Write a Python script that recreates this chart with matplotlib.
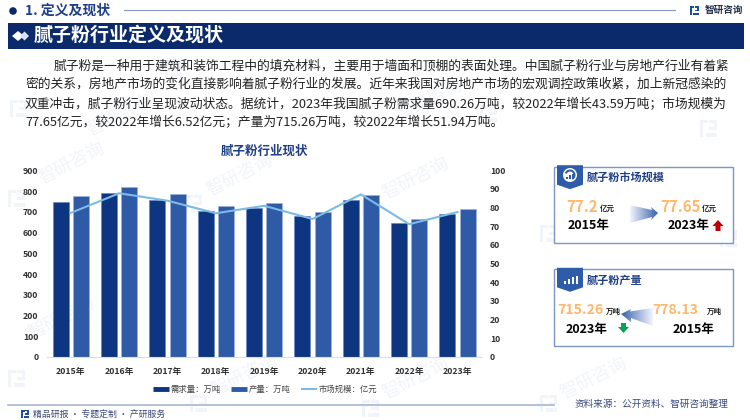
import numpy as np
import matplotlib
matplotlib.use("Agg")
import matplotlib.pyplot as plt
from matplotlib.patches import Polygon, Rectangle, Circle, Wedge
from matplotlib.lines import Line2D

plt.rcParams['font.family'] = ['Noto Sans CJK SC', 'DejaVu Sans']

# --- data ---
years = ['2015年', '2016年', '2017年', '2018年', '2019年', '2020年', '2021年', '2022年', '2023年']
demand = [746, 792, 757, 705, 717, 680, 757, 646.67, 690.26]
output = [778.13, 820, 784, 729, 742, 699, 779, 663.32, 715.26]
market = [77.2, 87.7, 83.7, 77, 81, 73.9, 87.1, 71.13, 77.65]

left_ticks = [0, 100, 200, 300, 400, 500, 600, 700, 800, 900]
right_ticks = [0, 10, 20, 30, 40, 50, 60, 70, 80, 90, 100]

paragraph = [
    "腻子粉是一种用于建筑和装饰工程中的填充材料，主要用于墙面和顶棚的表面处理。中国腻子粉行业与房地产行业有着紧",
    "密的关系，房地产市场的变化直接影响着腻子粉行业的发展。近年来我国对房地产市场的宏观调控政策收紧，加上新冠感染的",
    "双重冲击，腻子粉行业呈现波动状态。据统计，2023年我国腻子粉需求量690.26万吨，较2022年增长43.59万吨；市场规模为",
    "77.65亿元，较2022年增长6.52亿元；产量为715.26万吨，较2022年增长51.94万吨。",
]

NAVY = '#0b2a6b'
DARK_BAR = '#0d3580'
MID_BAR = '#2f5aa5'
LINE_BLUE = '#7bbbe6'
ORANGE = '#ffb869'
TITLE_BLUE = '#1f3f86'
WM = '#f1f4f9'

W, H = 750, 420
fig = plt.figure(figsize=(W / 100, H / 100), dpi=100, facecolor='white')

# page layer, in pixel coordinates
bg = fig.add_axes([0, 0, 1, 1], zorder=0)
bg.axis('off')


def logo(ax, x, y, s, color):
    # the little bracket mark of the brand
    ax.add_patch(Polygon([(x, y), (x + s * 0.45, y), (x + s * 0.45, y + s * 0.2), (x + s * 0.2, y + s * 0.2),
                          (x + s * 0.2, y + s), (x, y + s)], color=color, lw=0, zorder=2))
    ax.add_patch(Polygon([(x + s * 0.55, y), (x + s, y), (x + s, y + s * 0.6), (x + s * 0.55, y + s * 0.6),
                          (x + s * 0.55, y + s * 0.42), (x + s * 0.8, y + s * 0.42), (x + s * 0.8, y + s * 0.18),
                          (x + s * 0.55, y + s * 0.18)], color=color, lw=0, zorder=2))
    ax.add_patch(Rectangle((x + s * 0.35, y + s * 0.78), s * 0.65, s * 0.22, color=color, lw=0, zorder=2))


# watermarks
for wx, wy in [(72, 163), (240, 175), (416, 178), (590, 205), (62, 318), (245, 375),
               (416, 378), (594, 378), (430, 100), (120, 115)]:
    bg.text(wx, wy, '智研咨询', color=WM, fontsize=13, rotation=27, ha='center', va='center', zorder=1)
for lx, ly in [(8, 190), (185, 195), (362, 200), (540, 225), (8, 370), (190, 395), (362, 400),
               (540, 395), (10, 100), (165, 60), (480, 105), (700, 120), (720, 230)]:
    logo(bg, lx, ly, 17, WM)

# header
bg.add_patch(Circle((13, 11), 3.8, color=NAVY, lw=0, zorder=3))
bg.text(25, 11, '1. 定义及现状', color=TITLE_BLUE, fontsize=10, fontweight='bold', va='center', zorder=3)
bg.plot([124, 675], [10, 10], color='#8396c0', lw=0.8, zorder=3)
logo(bg, 690, 6, 9, '#1d4d9c')
bg.text(705, 10, '智研咨询', color='#222f4a', fontsize=6.9, fontweight='bold', va='center', zorder=3)
bg.add_patch(Rectangle((8, 23), 736, 26, color=NAVY, lw=0, zorder=3))
bg.add_patch(Polygon([(12, 36), (18, 31), (24, 36), (18, 41)], color='white', lw=0, zorder=4))
bg.add_patch(Polygon([(20, 36), (24.5, 31.5), (29, 36), (24.5, 40.5)], color='#dbe3f2', lw=0, zorder=4))
bg.text(34, 35.5, '腻子粉行业定义及现状', color='white', fontsize=13.7, fontweight='bold', va='center', zorder=4)

# paragraph
line_y = [65.7, 84.3, 103.3, 121.7]
line_x = [54, 25, 25, 25]
for tx, ty, line in zip(line_x, line_y, paragraph):
    bg.text(tx, ty, line, color='#222222', fontsize=9.21, va='center', zorder=3)

# footer
bg.plot([8, 554], [405, 405], color='#a9b6d3', lw=1.2, zorder=3)
logo(bg, 21, 410, 8, '#1d4d9c')
bg.text(33, 414.5, '精品研报 · 专题定制 · 产研服务', color='#3a4a7a', fontsize=6.4, va='center', zorder=3)
bg.text(575, 404, '资料来源：公开资料、智研咨询整理', color='#3a4a7a', fontsize=6.9, va='center', zorder=3)


def grad_arrow(ax, pts, x0, x1, y0, y1, left_dark):
    ramp = np.linspace(0, 1, 64).reshape(1, -1)
    if left_dark:
        ramp = ramp[:, ::-1]
    c0, c1 = np.array([0.95, 0.96, 0.99]), np.array([0.22, 0.38, 0.68])
    img = (c0[None, None, :] * (1 - ramp[..., None]) + c1[None, None, :] * ramp[..., None])
    im = ax.imshow(img, extent=(x0, x1, y1, y0), aspect='auto', zorder=3)
    patch = Polygon(pts, transform=ax.transData, fc='none', ec='none')
    ax.add_patch(patch)
    im.set_clip_path(patch)


def card(ax, y0, y1, title):
    ax.add_patch(Rectangle((553.7, y0), 179, y1 - y0, fc='white', ec='#6485c0', lw=1, zorder=2, alpha=0.85))
    ax.add_patch(Polygon([(557, y0 - 1.5), (583, y0 - 1.5), (583, y0 + 18), (570, y0 + 22.5), (557, y0 + 18)],
                         color='#2f5ca8', lw=0, zorder=3))
    ax.text(587, y0 + 11, title, color=TITLE_BLUE, fontsize=8, fontweight='bold', va='center', zorder=3)


def pieces(ax, x, y, s, color, size, weight='bold'):
    ax.text(x, y, s, color=color, fontsize=size, fontweight=weight, va='center', zorder=4)


# card 1, market size
card(bg, 166.7, 242.7, '腻子粉市场规模')
bg.add_patch(Circle((570, 175), 7, color='white', lw=0, zorder=4))
bg.add_patch(Wedge((570, 175), 5.5, 200, 60, width=2, color='#2f5ca8', lw=0, zorder=5))
for bx, bh in [(567, 2), (570, 3.5), (573, 5)]:
    bg.add_patch(Rectangle((bx - 0.8, 178.5 - bh), 1.6, bh, color='#2f5ca8', lw=0, zorder=5))
pieces(bg, 566.5, 207, '77.2', ORANGE, 10.8)
pieces(bg, 600, 208.5, '亿元', '#222222', 5.4)
pieces(bg, 568, 226, '2015年', 'black', 9)
grad_arrow(bg, [(630, 205), (652, 210), (651, 207), (658, 213), (651, 220), (652, 217), (630, 223)],
           630, 658, 205, 223, False)
pieces(bg, 660, 207, '77.65', ORANGE, 10.8)
pieces(bg, 702, 208.5, '亿元', '#222222', 5.4)
pieces(bg, 668, 226, '2023年', 'black', 9)
bg.add_patch(Polygon([(718, 220), (723.5, 226), (720.5, 226), (720.5, 231), (715.5, 231), (715.5, 226), (712.5, 226)],
                     color='#c00000', lw=0, zorder=4))

# card 2, output
card(bg, 269.3, 345.7, '腻子粉产量')
for bx, bh in [(565, 3), (569, 5), (573, 7), (577, 8)]:
    bg.add_patch(Rectangle((bx - 1.1, 283.5 - bh), 2.2, bh, color='white', lw=0, zorder=5))
pieces(bg, 557, 310, '715.26', ORANGE, 10.1)
pieces(bg, 606, 311, '万吨', '#222222', 5.4)
pieces(bg, 566, 329, '2023年', 'black', 9)
bg.add_patch(Polygon([(623.5, 333), (629, 327), (626, 327), (626, 323), (621, 323), (621, 327), (618, 327)],
                     color='#00a651', lw=0, zorder=4))
grad_arrow(bg, [(621, 314), (631, 309), (630, 311.5), (653, 308), (653, 326), (631, 318), (631, 322)],
           621, 653, 308, 326, True)
pieces(bg, 652, 310, '778.13', ORANGE, 10.1)
pieces(bg, 707, 311, '万吨', '#222222', 5.4)
pieces(bg, 673, 329, '2015年', 'black', 9)

bg.set_xlim(0, W)
bg.set_ylim(H, 0)

# --- chart ---
ax_l, ax_r, ax_top, ax_bot = 46.7, 481.7, 170.3, 357
ax = fig.add_axes([ax_l / W, 1 - ax_bot / H, (ax_r - ax_l) / W, (ax_bot - ax_top) / H], zorder=2)
ax.patch.set_visible(False)
x = np.arange(len(years))
bw = 0.33
ax.bar(x - 0.21, demand, bw, color=DARK_BAR, edgecolor='#5f80c0', linewidth=0.4, label='需求量：万吨')
ax.bar(x + 0.21, output, bw, color=MID_BAR, edgecolor='#9db3dd', linewidth=0.5, label='产量：万吨')
ax.set_xlim(-0.5, len(years) - 0.5)
ax.set_ylim(0, 900)
ax.set_yticks(left_ticks)
ax.set_xticks(x, years)
ax.tick_params(axis='both', length=0, labelsize=6.3, labelcolor='#333333')
ax.tick_params(axis='x', pad=7)
ax.tick_params(axis='y', pad=6)
for lab in ax.get_xticklabels() + ax.get_yticklabels():
    lab.set_fontweight('bold')
for s in ['top', 'left', 'right']:
    ax.spines[s].set_visible(False)
ax.spines['bottom'].set_color('#d9dde5')
ax.spines['bottom'].set_linewidth(0.8)

ax2 = ax.twinx()
ax2.patch.set_visible(False)
ax2.plot(x, market, color=LINE_BLUE, lw=1.5, label='市场规模：亿元')
ax2.set_ylim(0, 100)
ax2.set_yticks(right_ticks)
ax2.tick_params(axis='y', length=0, labelsize=6.3, labelcolor='#333333', pad=6)
for lab in ax2.get_yticklabels():
    lab.set_fontweight('bold')
for s in ax2.spines.values():
    s.set_visible(False)

fig.text(264 / W, 1 - 151 / H, '腻子粉行业现状', color=TITLE_BLUE, fontsize=9, fontweight='bold', ha='center', va='center', zorder=3)

handles = [Line2D([], [], color=DARK_BAR, lw=3.5, solid_capstyle='butt'),
           Line2D([], [], color=MID_BAR, lw=3.5, solid_capstyle='butt'),
           Line2D([], [], color=LINE_BLUE, lw=1.5, solid_capstyle='butt')]
fig.legend(handles, ['需求量：万吨', '产量：万吨', '市场规模：亿元'], ncol=3, frameon=False, fontsize=6,
           labelcolor='#444444', loc='center', bbox_to_anchor=(265 / W, 1 - 389 / H), handlelength=1.9,
           handletextpad=0.15, columnspacing=1.3)

fig.savefig('out.png', dpi=100)
